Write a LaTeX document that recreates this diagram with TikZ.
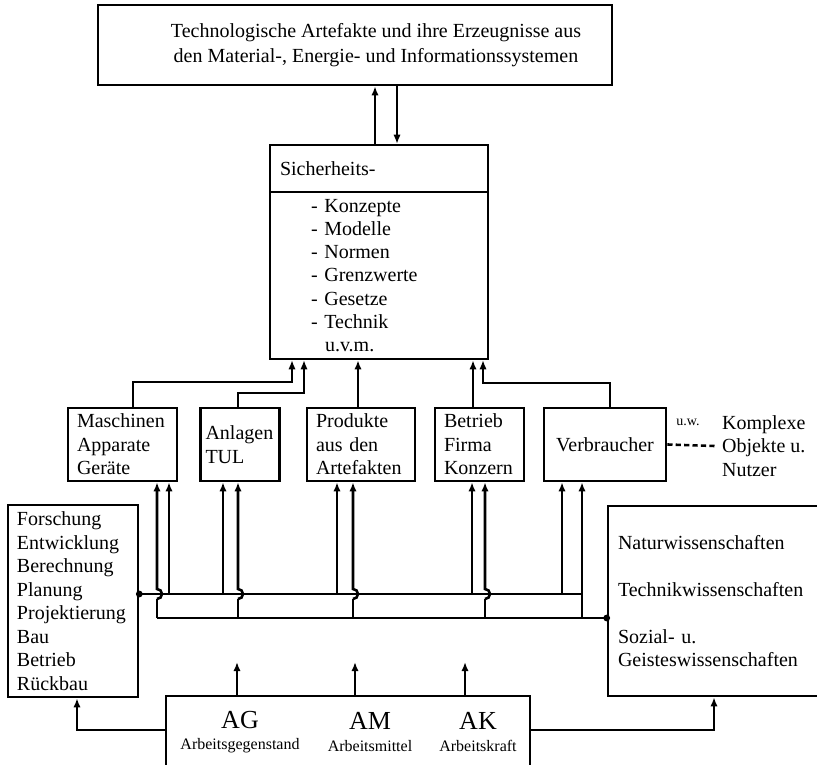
\documentclass[tikz,border=0pt]{standalone}
\usepackage{fontspec}
\setmainfont{Liberation Serif}
\usepackage{tikz}
\usetikzlibrary{arrows.meta, positioning, calc}

\tikzset{
    kasten/.style={draw, line width=1.3pt, rectangle, inner xsep=4.5pt, inner ysep=0pt, align=left},
    dick/.style={line width=1.3pt},
    duenn/.style={line width=0.65pt},
    strich/.style={line width=1.3pt, dash pattern=on 2.6pt off 1.6pt},
}

\begin{document}
\begin{tikzpicture}[x=0.5pt, y=-0.5pt, >={Latex[length=4.5pt,width=3.6pt]},
    font=\fontsize{10}{11.75}\selectfont]
    \useasboundingbox (0,0) rectangle (817,764);
    \clip (0,0) rectangle (817,764);

    \node[kasten, minimum width=257pt, minimum height=40pt] (artefakte) at (355,45) {};
    \node[align=center, font=\fontsize{10}{12.5}\selectfont] (artefakttext) at (376,45)
        {Technologische Artefakte und ihre Erzeugnisse aus\\den Material-, Energie- und Informationssystemen};

    \node[kasten, text width=99pt, inner xsep=5pt, minimum height=23.5pt] (sichkopf) at (379,168.5) {Sicherheits-};
    \node[kasten, text width=68pt, inner xsep=20.5pt, minimum height=83.5pt, font=\fontsize{10}{11.65}\selectfont] (sich) at (379,275.5)
        {- Konzepte\\- Modelle\\- Normen\\- Grenzwerte\\- Gesetze\\- Technik\\\hspace*{7pt}u.v.m.};

    \node[kasten, text width=45.5pt, minimum height=36.5pt] (masch) at (122.5,444.5) {Maschinen\\Apparate\\Geräte};
    \node[kasten, text width=34.5pt, inner xsep=2.5pt, minimum height=36.5pt] (anl) at (240,444.5) {Anlagen\\TUL};
    \node[kasten, text width=45pt, minimum height=36.5pt] (prod) at (361,444.5) {Produkte\\aus den\\Artefakten};
    \node[kasten, text width=35.5pt, minimum height=36.5pt] (betr) at (479.5,444.5) {Betrieb\\Firma\\Konzern};
    \node[kasten, text width=52pt, minimum height=36.5pt, align=center] (verb) at (605,444.5) {Verbraucher};

    \node[font=\fontsize{7}{8}\selectfont] (uw) at (688,422) {u.w.};
    \node[anchor=west, align=left] (komplex) at (715,446) {Komplexe\\Objekte u.\\Nutzer};

    \node[kasten, text width=56pt, minimum height=96pt] (links) at (73,601)
        {Forschung\\Entwicklung\\Berechnung\\Planung\\Projektierung\\Bau\\Betrieb\\Rückbau};
    \node[kasten, text width=98pt, inner xsep=5pt, minimum height=95pt] (rechts) at (716,601)
        {Naturwissenschaften\\[11.75pt]Technikwissenschaften\\[11.75pt]Sozial- u.\\Geisteswissenschaften};

    \node[kasten, minimum width=182pt, minimum height=37pt] (arbeit) at (348,733) {};
    \node[align=center] (ag) at (240,732) {{\fontsize{13}{14}\selectfont AG}\\[-1pt]{\fontsize{8}{9}\selectfont Arbeitsgegenstand}};
    \node[align=center] (am) at (370,732) {{\fontsize{13}{14}\selectfont AM}\\[-1pt]{\fontsize{8}{9}\selectfont Arbeitsmittel}};
    \node[align=center] (ak) at (478,732) {{\fontsize{13}{14}\selectfont AK}\\[-1pt]{\fontsize{8}{9}\selectfont Arbeitskraft}};

    \draw[dick,->] (sichkopf.north -| 375,0) -- (artefakte.south -| 375,0);
    \draw[duenn,->] (artefakte.south -| 397,0) -- (sichkopf.north -| 397,0);

    \draw[duenn,->] (masch.north -| 133,0) |- (292,382) -- (sich.south -| 292,0);
    \draw[duenn,->] (anl.north -| 238,0) |- (304,393) -- (sich.south -| 304,0);
    \draw[dick,->] (prod.north -| 358,0) -- (sich.south -| 358,0);
    \draw[dick,->] (betr.north -| 473,0) -- (sich.south -| 473,0);
    \draw[duenn,->] (verb.north -| 610,0) |- (483,383) -- (sich.south -| 483,0);

    \draw[strich] (verb.east) -- (komplex.west);

    \coordinate (bus1a) at (links.east |- 0,594);
    \coordinate (bus1b) at (582,594);
    \coordinate (bus2a) at (157,618);
    \coordinate (bus2b) at (rechts.west |- 0,618);
    \draw[dick] (bus1a) -- (bus1b);
    \draw[dick] (bus2a) -- (bus2b);
    \fill (bus1a) circle (1.7pt);
    \fill (bus2b) circle (1.7pt);

    \foreach \x/\ziel in {169/masch, 223/anl, 337/prod, 472/betr, 562/verb}
        \draw[dick,->] (\x,594) -- (\ziel.south -| \x,0);
    \foreach \x/\ziel in {157/masch, 238/anl, 353/prod, 485/betr} {
        \draw[duenn] (\x,618) -- (\x,599);
        \draw[dick,->] (\x,599) arc[start angle=-90, end angle=90, radius=2.5pt] -- (\ziel.south -| \x,0);
    }
    \draw[dick,->] (bus1b |- bus2a) -- (verb.south -| 582,0);

    \foreach \x in {237,355,465} {
        \coordinate (frei\x) at (\x,662);
        \draw[dick,->] (arbeit.north -| \x,0) -- (frei\x);
    }
    \draw[dick,->] (arbeit.west |- 0,730) -| (links.south -| 77,0);
    \draw[dick,->] (arbeit.east |- 0,730) -| (rechts.south -| 714,0);
\end{tikzpicture}
\end{document}
